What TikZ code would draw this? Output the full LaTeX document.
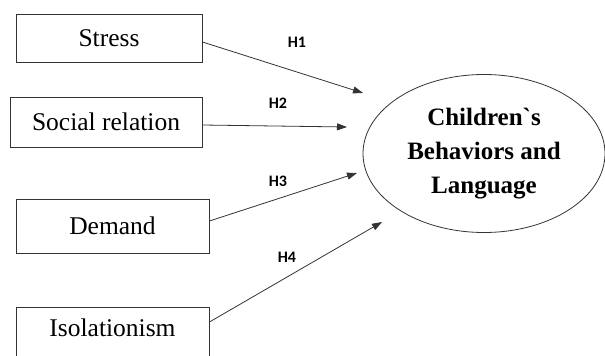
\documentclass[tikz,border=0pt]{standalone}
\usepackage{fontspec}
\setmainfont{Liberation Serif}
\newfontfamily\hypfont{Carlito}
\usepackage{tikz}
\usetikzlibrary{shapes.geometric}
\usetikzlibrary{arrows.meta}

\begin{document}
\begin{tikzpicture}[x=1pt,y=-1pt,
  factor/.style={draw=black!80,line width=0.9pt,inner sep=0pt,
    font=\fontsize{25.5}{29}\selectfont},
  hyp/.style={font=\hypfont\bfseries\fontsize{16}{18}\selectfont},
  link/.style={draw=black!80,line width=0.8pt,-{Triangle[length=10pt,width=7pt]}}]
  \clip (0,0) rectangle (605,356);
  % independent variables
  \node[factor,minimum width=186pt,minimum height=48pt] (stress) at (109,38) {Stress};
  \node[factor,minimum width=192pt,minimum height=50pt] (social) at (106,122) {Social relation};
  \node[factor,minimum width=193pt,minimum height=54pt] (demand) at (112.5,226) {Demand};
  \node[factor,minimum width=193pt,minimum height=54pt,text depth=12pt] (isol) at (112.5,334) {Isolationism};
  % dependent variable
  \node[ellipse,draw=black!80,line width=0.8pt,minimum width=242pt,minimum height=158pt,
    inner sep=0pt,align=center,font=\bfseries\fontsize{25}{34}\selectfont] (child) at (484,153.5)
    {Children\textasciigrave s\\Behaviors and\\Language};
  % arrow ends
  \coordinate (t1) at (363,93);
  \coordinate (t2) at (347,127);
  \coordinate (t3) at (357,173);
  \coordinate (t4) at (382,222);
  \draw[link] ([yshift=-4pt]stress.east) -- (t1);
  \draw[link] ([yshift=-3pt]social.east) -- (t2);
  \draw[link] ([yshift=5pt]demand.east) -- (t3);
  \draw[link] ([yshift=12pt]isol.east) -- (t4);
  % hypotheses
  \node[hyp] (h1) at (297,42) {H1};
  \node[hyp] (h2) at (278,103) {H2};
  \node[hyp] (h3) at (278,181) {H3};
  \node[hyp] (h4) at (287,257) {H4};
\end{tikzpicture}
\end{document}
